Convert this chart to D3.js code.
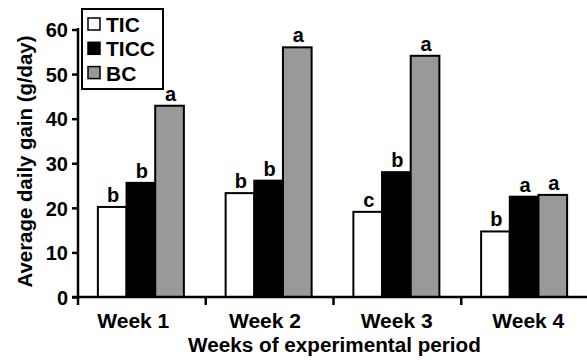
<!DOCTYPE html>
<html>
<head>
<meta charset="utf-8">
<script src="https://cdn.jsdelivr.net/npm/d3@7"></script>
<style>
  html, body { margin: 0; padding: 0; background: #fff; }
  svg { display: block; }
  text { font-family: "Liberation Sans", Arial, Helvetica, sans-serif; font-weight: bold; fill: #000; }
</style>
</head>
<body>
<svg id="chart" width="587" height="360"></svg>
<script>
// Average daily gain per week for three treatments
const weeks = ["Week 1", "Week 2", "Week 3", "Week 4"];
const seriesNames = ["TIC", "TICC", "BC"];
const ticValues  = [20.2, 23.3, 19.1, 14.7];
const ticcValues = [25.6, 26.1, 28.0, 22.5];
const bcValues   = [42.9, 56.0, 54.1, 22.9];
const ticLetters  = ["b", "b", "c", "b"];
const ticcLetters = ["b", "b", "b", "a"];
const bcLetters   = ["a", "a", "a", "a"];
const yTicks = [0, 10, 20, 30, 40, 50, 60];
const fills = { TIC: "#ffffff", TICC: "#000000", BC: "#999999" };

const seriesValues = { TIC: ticValues, TICC: ticcValues, BC: bcValues };
const seriesLetters = { TIC: ticLetters, TICC: ticcLetters, BC: bcLetters };

const svg = d3.select("#chart");

const plotLeft = 78, plotRight = 589, plotTop = 29.5, plotBottom = 297;

const x0 = d3.scaleBand().domain(weeks).range([plotLeft, plotRight]).padding(0);
const groupWidth = 86;
const x1 = d3.scaleBand().domain(seriesNames).range([0, groupWidth]).padding(0);
const y = d3.scaleLinear().domain([0, 60]).range([plotBottom, plotTop]);
// category labels are spread a little wider than the bar groups
const xLabel = d3.scalePoint().domain(weeks).range([133.3, 528.3]);

// Bars
const rows = weeks.map((w, i) => ({
  week: w,
  bars: seriesNames.map(s => ({ series: s, value: seriesValues[s][i], letter: seriesLetters[s][i] }))
}));

const groups = svg.append("g").selectAll("g")
  .data(rows)
  .join("g")
  .attr("transform", d => `translate(${x0(d.week) + (x0.bandwidth() - groupWidth) / 2 - 1},0)`);

groups.selectAll("rect")
  .data(d => d.bars)
  .join("rect")
  .attr("x", d => x1(d.series))
  .attr("y", d => y(d.value))
  .attr("width", x1.bandwidth())
  .attr("height", d => y(0) - y(d.value))
  .attr("fill", d => fills[d.series])
  .attr("stroke", "#000")
  .attr("stroke-width", 2);

groups.selectAll("text.sig")
  .data(d => d.bars)
  .join("text")
  .attr("class", "sig")
  .attr("x", d => x1(d.series) + x1.bandwidth() / 2 + 1)
  .attr("y", d => y(d.value) - 5)
  .attr("text-anchor", "middle")
  .style("font-size", "20px")
  .text(d => d.letter);

// Y axis
const yAxis = svg.append("g")
  .attr("transform", `translate(${plotLeft},0)`)
  .call(d3.axisLeft(y).tickValues(yTicks).tickSize(6).tickSizeOuter(0).tickPadding(4));
yAxis.select(".domain").attr("stroke-width", 2.5).attr("d", `M0,${y(60) - 1.5}V${y(0)}`);
yAxis.selectAll(".tick line").attr("stroke-width", 2.5);
yAxis.selectAll(".tick text")
  .style("font-size", "20px")
  .style("font-family", "'Liberation Sans', Arial, sans-serif")
  .style("font-weight", "bold")
  .attr("dy", "0.36em");

// X axis: boundaries between weeks carry ticks, labels sit under each week
const boundaries = weeks.map(w => x0(w));
const xAxis = svg.append("g").attr("transform", `translate(0,${plotBottom})`);
xAxis.append("line")
  .attr("x1", plotLeft - 6).attr("x2", 587)
  .attr("y1", 0).attr("y2", 0)
  .attr("stroke", "#000").attr("stroke-width", 2.5);
xAxis.selectAll("line.bt")
  .data(boundaries)
  .join("line")
  .attr("class", "bt")
  .attr("x1", d => d).attr("x2", d => d)
  .attr("y1", 0).attr("y2", 8)
  .attr("stroke", "#000").attr("stroke-width", 2.5);
xAxis.selectAll("text")
  .data(weeks)
  .join("text")
  .attr("x", d => xLabel(d))
  .attr("y", 31)
  .attr("text-anchor", "middle")
  .style("font-size", "21px")
  .text(d => d);

// Axis titles
svg.append("text")
  .attr("x", (plotLeft + plotRight) / 2 + 1)
  .attr("y", 352)
  .attr("text-anchor", "middle")
  .style("font-size", "20.7px")
  .text("Weeks of experimental period");

svg.append("text")
  .attr("transform", `translate(31.5,${161.5}) rotate(-90)`)
  .attr("text-anchor", "middle")
  .style("font-size", "20.4px")
  .text("Average daily gain (g/day)");

// Legend
const legend = svg.append("g");
legend.append("rect")
  .attr("x", 82).attr("y", 9)
  .attr("width", 81).attr("height", 80)
  .attr("fill", "#fff").attr("stroke", "#000").attr("stroke-width", 2);
const items = legend.selectAll("g.item")
  .data(seriesNames)
  .join("g")
  .attr("class", "item")
  .attr("transform", (d, i) => `translate(88,${18 + i * 24.3})`);
items.append("rect")
  .attr("width", 12).attr("height", 12)
  .attr("fill", d => fills[d])
  .attr("stroke", "#000").attr("stroke-width", 1.5);
items.append("text")
  .attr("x", 18).attr("y", 14)
  .style("font-size", "21px")
  .text(d => d);
</script>
</body>
</html>
